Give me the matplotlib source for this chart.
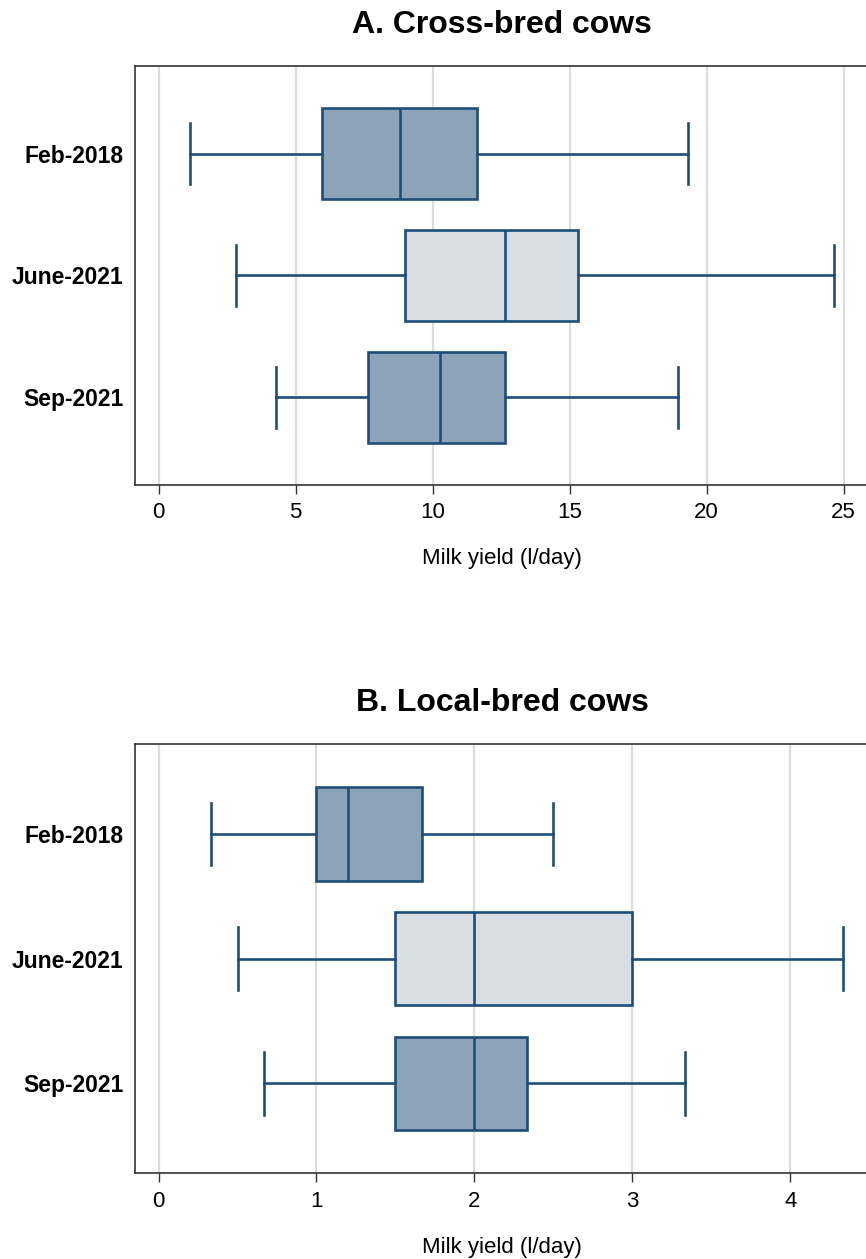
import matplotlib
matplotlib.use("Agg")
import matplotlib.pyplot as plt

plt.rcParams['font.family'] = ['Liberation Sans', 'DejaVu Sans']

periods = ['Feb-2018', 'June-2021', 'Sep-2021']

# five-number summaries: whisker low, Q1, median, Q3, whisker high
cross_lo = [1.15, 2.83, 4.30]
cross_q1 = [5.96, 8.98, 7.64]
cross_med = [8.81, 12.66, 10.28]
cross_q3 = [11.63, 15.32, 12.66]
cross_hi = [19.34, 24.65, 18.97]

local_lo = [0.33, 0.50, 0.67]
local_q1 = [1.00, 1.50, 1.50]
local_med = [1.20, 2.00, 2.00]
local_q3 = [1.67, 3.00, 2.33]
local_hi = [2.50, 4.33, 3.33]

xticks_a = [0, 5, 10, 15, 20, 25]
xticks_b = [0, 1, 2, 3, 4]

edge = '#1f4e79'
fills = ['#8ca3b8', '#d9dee5', '#8ca3b8']


def draw(ax, lo, q1, med, q3, hi, title, xlim, xticks):
    stats = []
    for i in range(len(periods)):
        stats.append(dict(label=periods[i], whislo=lo[i], q1=q1[i], med=med[i],
                          q3=q3[i], whishi=hi[i]))
    ax.grid(axis='x', color='#dcdcdc', linewidth=1.6, zorder=0)
    ax.set_axisbelow(True)
    bp = ax.bxp(stats, positions=[1, 2, 3], vert=False, widths=0.75, capwidths=0.5,
                showfliers=False, patch_artist=True,
                boxprops=dict(edgecolor=edge, linewidth=1.9),
                medianprops=dict(color=edge, linewidth=1.9),
                whiskerprops=dict(color=edge, linewidth=1.9),
                capprops=dict(color=edge, linewidth=1.9))
    for patch, c in zip(bp['boxes'], fills):
        patch.set_facecolor(c)
    ax.set_ylim(3.72, 0.28)
    ax.set_xlim(*xlim)
    ax.set_xticks(xticks)
    ax.set_yticks([1, 2, 3])
    ax.set_yticklabels(periods, fontsize=16.5, fontweight='bold')
    ax.tick_params(axis='y', length=0, pad=8)
    ax.tick_params(axis='x', length=6.5, width=1, color='#333333', labelsize=16, pad=6)
    for s in ['left', 'top', 'bottom']:
        ax.spines[s].set_color('#333333')
        ax.spines[s].set_linewidth(1.2)
    ax.spines['right'].set_visible(False)
    ax.set_xlabel('Milk yield (l/day)', fontsize=16, labelpad=18)
    ax.set_title(title, fontsize=23, fontweight='bold', pad=24)


fig = plt.figure(figsize=(8.66, 12.59), dpi=100)
ax1 = fig.add_axes([0.1555, 0.6148, 0.849, 0.3328])
ax2 = fig.add_axes([0.1555, 0.0681, 0.849, 0.3410])

draw(ax1, cross_lo, cross_q1, cross_med, cross_q3, cross_hi,
     'A. Cross-bred cows', (-0.87, 25.96), xticks_a)
draw(ax2, local_lo, local_q1, local_med, local_q3, local_hi,
     'B. Local-bred cows', (-0.151, 4.503), xticks_b)

fig.savefig('out.png', dpi=100)
